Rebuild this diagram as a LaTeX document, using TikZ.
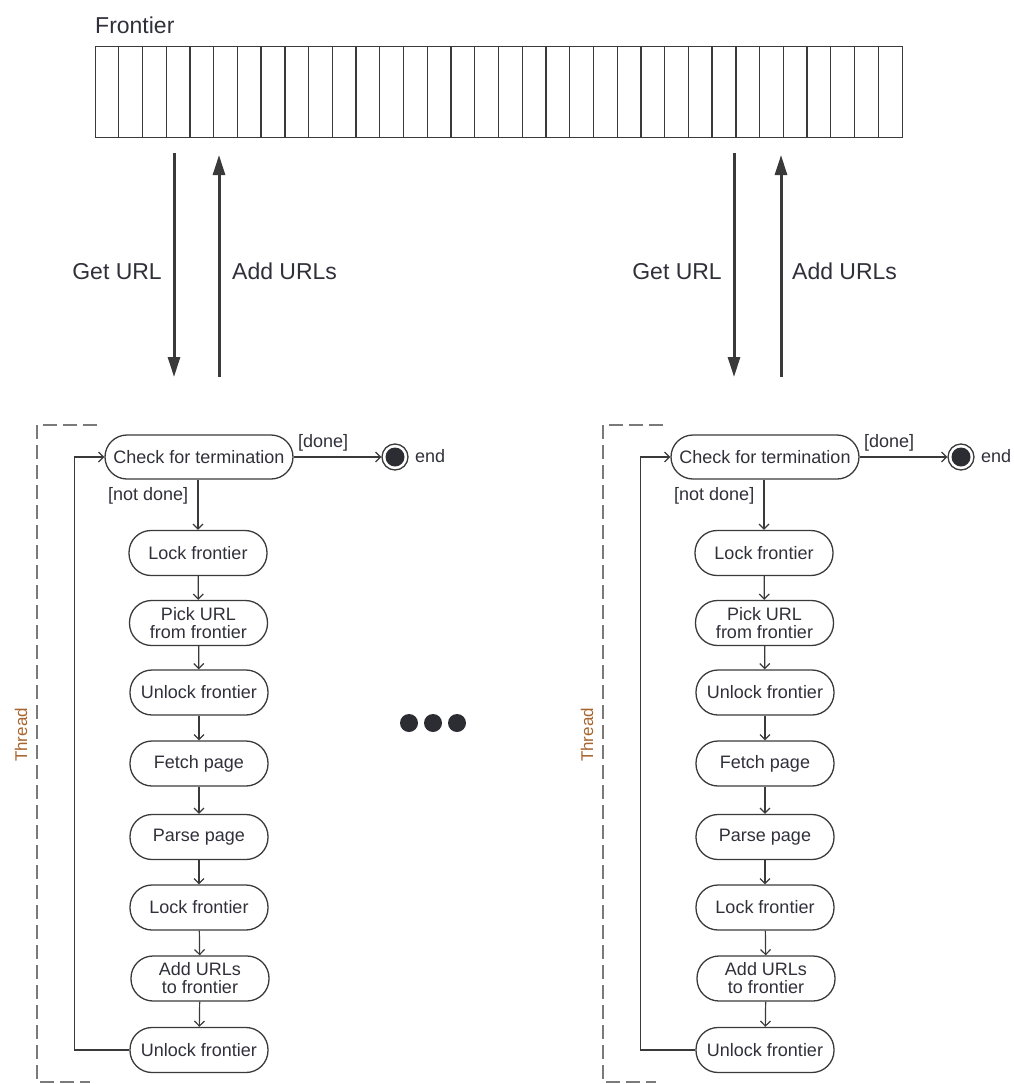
\documentclass[tikz,border=0pt]{standalone}
\usepackage{fontspec}
\setmainfont{Liberation Sans}
\usetikzlibrary{arrows.meta}
\definecolor{txt}{HTML}{30303A}
\definecolor{ln}{HTML}{3A3A3A}
\definecolor{thr}{HTML}{A8652E}
\definecolor{frm}{HTML}{7A7A7A}
\definecolor{dotc}{HTML}{2C2C33}
\begin{document}
\begin{tikzpicture}[x=1pt,y=-1pt,
  every node/.style={text=txt},
  act/.style={draw=ln, line width=1.3pt, rounded corners=22pt, minimum width=138pt,
    minimum height=45pt, inner sep=0pt, align=center, font=\fontsize{18}{18}\selectfont},
  flow/.style={draw=ln, line width=1.2pt, -{Straight Barb[length=5pt,width=10pt,line width=1.2pt]}},
  big/.style={draw=ln, line width=3pt, -{Triangle[length=20pt,width=12pt]}},
  lbl/.style={font=\fontsize{18}{18}\selectfont, inner sep=0pt},
  toplbl/.style={font=\fontsize{23}{23}\selectfont, inner sep=0pt},
  framestyle/.style={draw=frm, line width=2pt, dash pattern=on 14pt off 6pt}
]
\useasboundingbox (0,0) rectangle (1013,1084);

% Frontier
\node[toplbl, anchor=base west] (ftitle) at (95,33) {Frontier};
\node[draw=ln, line width=1.3pt, minimum width=807pt, minimum height=91pt, inner sep=0pt,
  anchor=north west] (frontier) at (95,46) {};
\foreach \i in {1,...,33} {
  \draw[ln, line width=1.3pt] (95+\i*23.735,46) -- (95+\i*23.735,137);
}

% top arrows
\coordinate (ga1) at (174,153); \coordinate (gb1) at (174,377);
\coordinate (aa1) at (219,377); \coordinate (ab1) at (219,155);
\coordinate (ga2) at (734,153); \coordinate (gb2) at (734,377);
\coordinate (aa2) at (781,377); \coordinate (ab2) at (781,155);
\draw[big] (ga1) -- (gb1);
\draw[big] (aa1) -- (ab1);
\draw[big] (ga2) -- (gb2);
\draw[big] (aa2) -- (ab2);
\node[toplbl, anchor=base east] (gl1) at (162,279) {Get URL};
\node[toplbl, anchor=base west] (al1) at (232,279) {Add URLs};
\node[toplbl, anchor=base east] (gl2) at (722,279) {Get URL};
\node[toplbl, anchor=base west] (al2) at (792,279) {Add URLs};

% ellipsis
\fill[dotc] (409,723) circle (9pt);
\fill[dotc] (433,723) circle (9pt);
\fill[dotc] (457,723) circle (9pt);

% threads
\foreach \p/\dx in {a/0,b/566} {
\begin{scope}[xshift=\dx pt]
  \draw[framestyle] (97,425) -- (37,425) -- (37,1082) -- (90,1082);
  \node[font=\fontsize{17}{17}\selectfont, text=thr, rotate=90, inner sep=0pt] (\p thr) at (21,735) {Thread};
  \node[act, minimum width=188pt, minimum height=44pt] (\p check) at (199,457) {Check for termination};
  \node[act] (\p l1) at (198,553) {Lock frontier};
  \node[act] (\p pick) at (198.5,623) {Pick URL\\from frontier};
  \node[act] (\p u1) at (199,692.5) {Unlock frontier};
  \node[act] (\p fetch) at (199,763.5) {Fetch page};
  \node[act] (\p parse) at (199,837) {Parse page};
  \node[act] (\p l2) at (199,907.5) {Lock frontier};
  \node[act] (\p add) at (200,978.5) {Add URLs\\ to frontier};
  \node[act] (\p u2) at (199,1050) {Unlock frontier};
  \node[circle, draw=ln, line width=1.3pt, minimum size=26pt, inner sep=0pt] (\p end) at (395,457) {};
  \fill[dotc] (\p end.center) circle (9.5pt);
  \node[lbl, anchor=base west] (\p endl) at (415,462) {end};
  \draw[flow] (\p check.east) -- (\p end.west);
  \node[lbl, anchor=base west] (\p done) at (298,447) {[done]};
  \draw[flow] (\p check.south -| \p l1.north) -- (\p l1.north);
  \node[lbl, anchor=base west] (\p nd) at (108,500) {[not done]};
  \draw[flow] (\p l1) -- (\p pick);
  \draw[flow] (\p pick) -- (\p u1);
  \draw[flow] (\p u1) -- (\p fetch);
  \draw[flow] (\p fetch) -- (\p parse);
  \draw[flow] (\p parse) -- (\p l2);
  \draw[flow] (\p l2) -- (\p add);
  \draw[flow] (\p add) -- (\p u2);
  \draw[flow] (\p u2.west) -- ++(-55,0) |- (\p check.west);
\end{scope}
}
\end{tikzpicture}
\end{document}
